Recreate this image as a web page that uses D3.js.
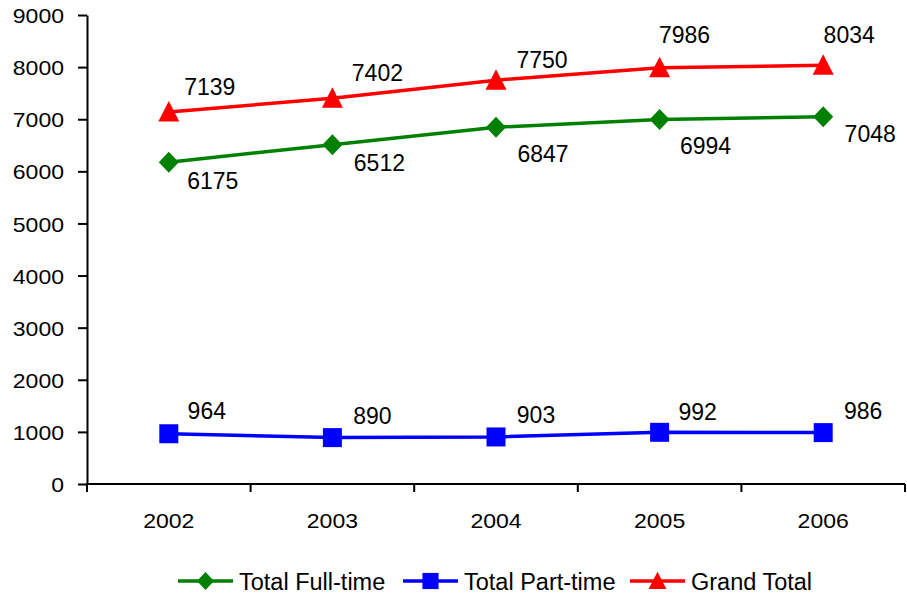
<!DOCTYPE html>
<html>
<head>
<meta charset="utf-8">
<script src="https://cdn.jsdelivr.net/npm/d3@7"></script>
<style>
  html, body { margin: 0; padding: 0; background: #fff; }
  svg text { font-family: "Liberation Sans", Arial, sans-serif; fill: #000; }
</style>
</head>
<body>
<svg id="chart" width="907" height="598"></svg>
<script>
// Enrolment totals by year
const years = ["2002", "2003", "2004", "2005", "2006"];
const fullTime = [6175, 6512, 6847, 6994, 7048];
const partTime = [964, 890, 903, 992, 986];
const grandTotal = [7139, 7402, 7750, 7986, 8034];
const yTicks = [0, 1000, 2000, 3000, 4000, 5000, 6000, 7000, 8000, 9000];

// Hand-placed label nudges (px, relative to each marker), one pair per point
const fullTimeLabelOffsets = [[44, 19], [47, 18], [47, 27], [46, 26], [47, 17]];
const partTimeLabelOffsets = [[38, -23], [40, -22], [40, -22], [38, -21], [40, -22]];
const grandTotalLabelOffsets = [[41, -25], [45, -26], [46, -20], [25, -33], [26, -31]];

const series = [
  { name: "Total Full-time", values: fullTime, offsets: fullTimeLabelOffsets, color: "#008000", marker: "diamond" },
  { name: "Total Part-time", values: partTime, offsets: partTimeLabelOffsets, color: "#0000FF", marker: "square" },
  { name: "Grand Total", values: grandTotal, offsets: grandTotalLabelOffsets, color: "#FF0000", marker: "triangle" }
];

const svg = d3.select("#chart");
const plotLeft = 87, plotRight = 905, plotTop = 15, plotBottom = 484;

const x = d3.scaleBand().domain(years).range([plotLeft, plotRight]);
const y = d3.scaleLinear().domain([0, 9000]).range([plotBottom, plotTop]);
const cx = d => x(d) + x.bandwidth() / 2;
const digitW = 12.8;

// Y axis
const yAxis = d3.axisLeft(y).tickValues(yTicks).tickSize(9).tickSizeOuter(0).tickFormat(d3.format("d"));
const gy = svg.append("g").attr("transform", `translate(${plotLeft},0)`).call(yAxis);
gy.attr("font-family", null);
gy.select(".domain").attr("stroke", "#000").attr("stroke-width", 2);
gy.selectAll(".tick line").attr("stroke", "#000").attr("stroke-width", 2);
gy.selectAll(".tick text")
  .attr("font-size", 21).attr("x", -23).attr("dy", "0.36em")
  .attr("textLength", d => String(d).length * digitW).attr("lengthAdjust", "spacingAndGlyphs");

// X axis with tick marks on category boundaries
const gx = svg.append("g").attr("transform", `translate(0,${plotBottom})`);
gx.append("line").attr("x1", plotLeft - 1).attr("x2", plotRight).attr("stroke", "#000").attr("stroke-width", 2);
const bounds = years.map(d => x(d)).concat([x(years[years.length - 1]) + x.bandwidth()]);
gx.selectAll("line.bt").data(bounds).join("line").attr("class", "bt")
  .attr("x1", d => d).attr("x2", d => d).attr("y1", 0).attr("y2", 8)
  .attr("stroke", "#000").attr("stroke-width", 2);
gx.selectAll("text").data(years).join("text")
  .attr("x", d => cx(d)).attr("y", 36).attr("dy", "0.36em")
  .attr("text-anchor", "middle").attr("font-size", 21)
  .attr("textLength", d => d.length * digitW).attr("lengthAdjust", "spacingAndGlyphs")
  .text(d => d);

function markerPath(type) {
  if (type === "diamond") return "M0,-10.5L10,0L0,10.5L-10,0Z";
  if (type === "square") return "M-9.5,-9.5H9.5V9.5H-9.5Z";
  return "M0,-11L10.5,9.5H-10.5Z";
}

const line = d3.line().x(d => cx(d.year)).y(d => y(d.value));

series.forEach(s => {
  const pts = years.map((yr, i) => ({ year: yr, value: s.values[i], off: s.offsets[i] }));
  const g = svg.append("g");
  g.append("path").datum(pts).attr("d", line)
    .attr("fill", "none").attr("stroke", s.color).attr("stroke-width", 3.5);
  g.selectAll("path.m").data(pts).join("path").attr("class", "m")
    .attr("transform", d => `translate(${cx(d.year)},${y(d.value)})`)
    .attr("d", markerPath(s.marker)).attr("fill", s.color);
  g.selectAll("text").data(pts).join("text")
    .attr("x", d => cx(d.year) + d.off[0])
    .attr("y", d => y(d.value) + d.off[1])
    .attr("dy", "0.36em")
    .attr("text-anchor", "middle").attr("font-size", 23)
    .text(d => d.value);
});

// Legend
const legendX = [178, 403, 630];
const lg = svg.append("g");
series.forEach((s, i) => {
  const lx = legendX[i], ly = 581;
  lg.append("line").attr("x1", lx).attr("x2", lx + 55).attr("y1", ly).attr("y2", ly)
    .attr("stroke", s.color).attr("stroke-width", 3.5);
  lg.append("path").attr("transform", `translate(${lx + 27.5},${ly}) scale(0.85)`)
    .attr("d", markerPath(s.marker)).attr("fill", s.color);
  lg.append("text").attr("x", lx + 61).attr("y", ly + 1).attr("dy", "0.36em")
    .attr("font-size", 23.5)
    .text(s.name);
});
</script>
</body>
</html>
